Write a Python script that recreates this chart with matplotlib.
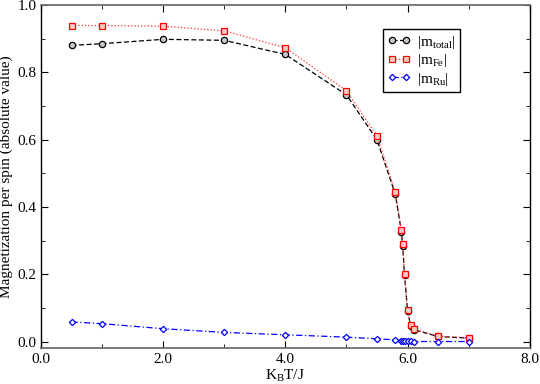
import matplotlib
matplotlib.use("Agg")
import matplotlib.pyplot as plt
from matplotlib.ticker import MultipleLocator, FormatStrFormatter

plt.rcParams['font.family'] = ['Liberation Serif', 'DejaVu Serif']
plt.rcParams['mathtext.fontset'] = 'custom'
plt.rcParams['mathtext.rm'] = 'Liberation Serif'
plt.rcParams['mathtext.it'] = 'Liberation Serif:italic'

# temperatures (K_B T / J)
T = [0.5, 1.0, 2.0, 3.0, 4.0, 5.0, 5.5, 5.8, 5.9, 5.92, 5.95, 6.0, 6.05, 6.1, 6.5, 7.0]

m_total = [0.880, 0.885, 0.898, 0.895, 0.853, 0.733, 0.599, 0.437, 0.325, 0.285,
           0.197, 0.091, 0.046, 0.035, 0.015, 0.010]
m_fe = [0.939, 0.939, 0.937, 0.923, 0.873, 0.745, 0.611, 0.443, 0.330, 0.289,
        0.200, 0.093, 0.048, 0.037, 0.016, 0.011]
m_ru = [0.058, 0.053, 0.038, 0.027, 0.020, 0.013, 0.008, 0.005, 0.003, 0.002,
        0.001, 0.001, 0.0005, 0.0, 0.0, 0.0]

fig = plt.figure(figsize=(5.4, 3.84), dpi=100)
ax = fig.add_axes([0.076, 0.094, 0.905, 0.893])

ax.plot(T, m_total, color='black', linestyle='--', dashes=(4, 2), linewidth=0.9,
        marker='o', markersize=4.5, markerfacecolor='#c8c8c8', markeredgecolor='black',
        markeredgewidth=0.9, label=r'$|\mathrm{m}_{\mathrm{total}}|$')
ax.plot(T, m_fe, color='#ff3030', linestyle=':', linewidth=0.9,
        marker='s', markersize=4.5, markerfacecolor='#ffc8c8', markeredgecolor='red',
        markeredgewidth=0.9, label=r'$|\mathrm{m}_{\mathrm{Fe}}|$')
ax.plot(T, m_ru, color='blue', linestyle='-.', dashes=(5, 2, 1, 2), linewidth=0.9,
        marker='D', markersize=3.2, markerfacecolor='white', markeredgecolor='blue',
        markeredgewidth=0.9, label=r'$|\mathrm{m}_{\mathrm{Ru}}|$')

ax.set_xlim(0, 8)
ax.set_ylim(-0.019, 1.0)
ax.xaxis.set_major_locator(MultipleLocator(2))
ax.xaxis.set_minor_locator(MultipleLocator(1))
ax.yaxis.set_major_locator(MultipleLocator(0.2))
ax.yaxis.set_minor_locator(MultipleLocator(0.1))
ax.xaxis.set_major_formatter(FormatStrFormatter('%.1f'))
ax.yaxis.set_major_formatter(FormatStrFormatter('%.1f'))
ax.tick_params(which='both', direction='in', top=True, right=True, labelsize=11)
ax.tick_params(which='major', length=5)
ax.tick_params(which='minor', length=3)

for s in ['top', 'bottom']:
    ax.spines[s].set_color('#707070')
    ax.spines[s].set_linewidth(1.3)
for s in ['left', 'right']:
    ax.spines[s].set_color('black')
    ax.spines[s].set_linewidth(1.0)

ax.set_xlabel(r'$\mathrm{K_BT/J}$', fontsize=11)
ax.set_ylabel('Magnetization per spin (absolute value)', fontsize=11)
ax.xaxis.set_label_coords(0.5, -0.057)
ax.yaxis.set_label_coords(-0.058, 0.5)

leg = ax.legend(loc='upper left', bbox_to_anchor=(0.70, 0.93), numpoints=2,
                fontsize=11, fancybox=False, framealpha=1, edgecolor='black',
                handlelength=1.5, handletextpad=0.4, borderpad=0.3, labelspacing=0.1,
                borderaxespad=0)
leg.get_frame().set_linewidth(1.0)

fig.savefig('out.png', dpi=100)
